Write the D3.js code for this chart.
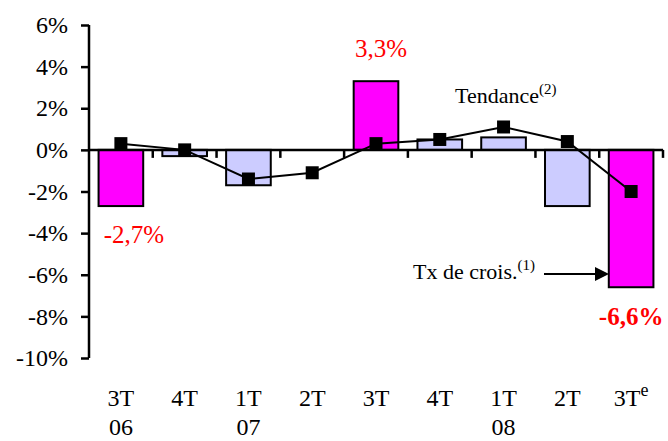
<!DOCTYPE html>
<html>
<head>
<meta charset="utf-8">
<script src="https://cdn.jsdelivr.net/npm/d3@7"></script>
</head>
<body style="margin:0; background:#fff">
<svg width="668" height="441"></svg>
<script>
var quarters = ["3T", "4T", "1T", "2T", "3T", "4T", "1T", "2T", "3T"];
var years = ["06", "", "07", "", "", "", "08", "", ""];
var growth = [-2.7, -0.3, -1.7, 0, 3.3, 0.5, 0.6, -2.7, -6.6];
var trend = [0.3, 0.0, -1.4, -1.1, 0.3, 0.5, 1.1, 0.4, -2.0];
var highlight = [true, false, false, false, true, false, false, false, true];
var yTicks = [6, 4, 2, 0, -2, -4, -6, -8, -10];

var serif = "Liberation Serif";
var svg = d3.select("svg").style("font-family", serif);
var plotL = 89, plotR = 663, plotT = 25, plotB = 358;

var x = d3.scaleBand()
    .domain(d3.range(quarters.length))
    .range([plotL, plotR])
    .paddingInner(0.3)
    .paddingOuter(0.15);
var xc = d3.scaleBand().domain(d3.range(quarters.length)).range([plotL, plotR]);
var y = d3.scaleLinear().domain([-10, 6]).range([plotB, plotT]);

// bars
svg.append("g").selectAll("rect")
    .data(growth)
    .enter().append("rect")
    .attr("x", function(d, i) { return x(i); })
    .attr("y", function(d) { return y(Math.max(0, d)); })
    .attr("width", x.bandwidth())
    .attr("height", function(d) { return Math.abs(y(d) - y(0)); })
    .attr("fill", function(d, i) { return highlight[i] ? "#ff00ff" : "#ccccff"; })
    .attr("stroke", function(d) { return d === 0 ? "none" : "#000"; })
    .attr("stroke-width", 2);

// y axis
var ya = svg.append("g")
    .attr("transform", "translate(" + plotL + ",0)")
    .call(d3.axisLeft(y).tickValues(yTicks).tickSize(8).tickPadding(13)
        .tickFormat(function(d) { return d + "%"; }));
ya.attr("font-family", null).attr("font-size", null);
ya.select(".domain").attr("stroke-width", 2.5).attr("d", "M0," + plotT + "V" + plotB);
ya.selectAll(".tick line").attr("stroke-width", 2.5);
ya.selectAll(".tick text").attr("fill", "#000")
    .style("font-family", serif).style("font-size", "24px");

// x axis (at zero)
var xa = svg.append("g").attr("transform", "translate(0," + y(0) + ")");
xa.append("line").attr("x1", plotL).attr("x2", plotR).attr("stroke", "#000").attr("stroke-width", 2.5);
xa.selectAll(".xt")
    .data(d3.range(1, quarters.length + 1))
    .enter().append("line")
    .attr("x1", function(i) { return xc(i - 1) + xc.bandwidth(); })
    .attr("x2", function(i) { return xc(i - 1) + xc.bandwidth(); })
    .attr("y1", 0).attr("y2", 8)
    .attr("stroke", "#000").attr("stroke-width", 2.5);

// category labels
var lab = svg.append("g").selectAll("text")
    .data(quarters)
    .enter().append("text")
    .attr("x", function(d, i) { return xc(i) + xc.bandwidth() / 2; })
    .attr("y", 406)
    .attr("text-anchor", "middle")
    .style("font-size", "24px")
    .text(function(d) { return d; });
lab.filter(function(d, i) { return i === quarters.length - 1; })
    .append("tspan").attr("dy", -10).style("font-size", "18px").text("e");
svg.append("g").selectAll("text")
    .data(years)
    .enter().append("text")
    .attr("x", function(d, i) { return xc(i) + xc.bandwidth() / 2; })
    .attr("y", 435)
    .attr("text-anchor", "middle")
    .style("font-size", "24px")
    .text(function(d) { return d; });

// trend line
var line = d3.line()
    .x(function(d, i) { return xc(i) + xc.bandwidth() / 2; })
    .y(function(d) { return y(d); });
svg.append("path").datum(trend)
    .attr("d", line)
    .attr("fill", "none")
    .attr("stroke", "#000")
    .attr("stroke-width", 2);
svg.append("g").selectAll("rect")
    .data(trend)
    .enter().append("rect")
    .attr("x", function(d, i) { return xc(i) + xc.bandwidth() / 2 - 6.5; })
    .attr("y", function(d) { return y(d) - 6.5; })
    .attr("width", 13).attr("height", 13)
    .attr("fill", "#000");

// value labels
function valLabel(i, dx, ty, bold) {
    svg.append("text")
        .attr("x", xc(i) + xc.bandwidth() / 2 + dx)
        .attr("y", ty)
        .attr("text-anchor", "middle")
        .style("font-size", "25px")
        .style("font-weight", bold ? "bold" : "normal")
        .attr("fill", "#ff0000")
        .text(String(growth[i]).replace(".", ",") + "%");
}
valLabel(4, 5, 57, false);
valLabel(0, 13, 243, false);
valLabel(8, 0, 325, true);

// annotations
var t1 = svg.append("text").attr("x", 455).attr("y", 103).style("font-size", "22px").text("Tendance");
t1.append("tspan").attr("dy", -9).style("font-size", "15px").text("(2)");
var t2 = svg.append("text").attr("x", 413).attr("y", 279).style("font-size", "22px").text("Tx de crois.");
t2.append("tspan").attr("dy", -9).style("font-size", "15px").text("(1)");
svg.append("line").attr("x1", 544).attr("x2", 598).attr("y1", 274).attr("y2", 274)
    .attr("stroke", "#000").attr("stroke-width", 2);
svg.append("path").attr("d", "M595,267L609,274L595,281Z").attr("fill", "#000");
</script>
</body>
</html>
